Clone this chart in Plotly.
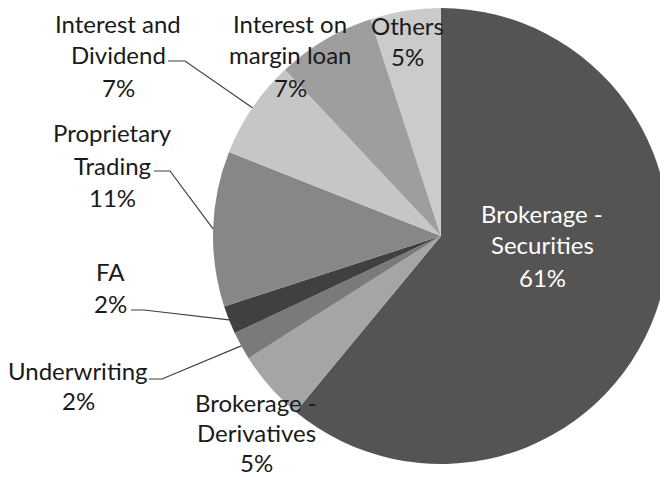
import math
import plotly.graph_objects as go

# ---- data ----
categories = ["Brokerage - Securities", "Brokerage - Derivatives", "Underwriting", "FA",
              "Proprietary Trading", "Interest and Dividend", "Interest on margin loan", "Others"]
values = [61, 5, 2, 2, 11, 7, 7, 5]
label_lines = [["Brokerage -", "Securities"], ["Brokerage -", "Derivatives"], ["Underwriting"], ["FA"],
               ["Proprietary", "Trading"], ["Interest and", "Dividend"], ["Interest on", "margin loan"], ["Others"]]
colors = ["#545454", "#a5a5a5", "#7a7a7a", "#404040", "#878787", "#c6c6c6", "#9e9e9e", "#cbcbcb"]

# ---- layout (screen pixels; page body has an 8px default margin) ----
OFF = 8
W, H = 668, 469
CX, CY = 441, 236      # pie centre on screen
R = 228                # pie radius
label_pos = [(542, 213), (256, 402), (78, 370), (110, 271), (112, 133), (118, 23), (290, 23), (408, 25)]
line_gap = [32, 30, 30, 32, 32, 32, 32, 32]
text_colors = ["#ffffff"] + ["#1a1a1a"] * 7
leaders = {2: (149, 162, 379), 3: (131, 144, 310), 4: (154, 170, 171), 5: (168, 185, 61)}
FONT = "Lato, 'Open Sans', sans-serif"
FS = 24


def px(x):
    return (x - OFF) / W


def py(y):
    return 1 - (y - OFF) / H


fig = go.Figure(go.Pie(
    labels=categories, values=values, sort=False, direction="clockwise", rotation=0,
    marker=dict(colors=colors, line=dict(width=0)), textinfo="none", hoverinfo="label+percent",
    domain=dict(x=[px(CX - R), px(CX + R)], y=[py(CY + R), py(CY - R)]),
    showlegend=False,
))

total = sum(values)
annotations = []
shapes = []
cum = 0
for i, v in enumerate(values):
    pct = f"{round(100 * v / total)}%"
    lines = label_lines[i] + [pct]
    x0, y0 = label_pos[i]
    for k, t in enumerate(lines):
        annotations.append(dict(
            x=px(x0), y=py(y0 + k * line_gap[i]), xref="paper", yref="paper", text=t, showarrow=False,
            xanchor="center", yanchor="middle", font=dict(family=FONT, size=FS, color=text_colors[i])))
    mid = (cum + v / 2) / total * 2 * math.pi
    cum += v
    if i in leaders:
        xa, xb, yl = leaders[i]
        ex = CX + R * math.sin(mid)
        ey = CY - R * math.cos(mid)
        path = f"M {px(xa)} {py(yl)} L {px(xb)} {py(yl)} L {px(ex)} {py(ey)}"
        shapes.append(dict(type="path", xref="paper", yref="paper", path=path,
                           line=dict(color="#404040", width=1.2)))

fig.update_layout(
    width=W, height=H, margin=dict(l=0, r=0, t=0, b=0),
    paper_bgcolor="white", plot_bgcolor="white",
    annotations=annotations, shapes=shapes,
)
fig.write_html("out.html")
